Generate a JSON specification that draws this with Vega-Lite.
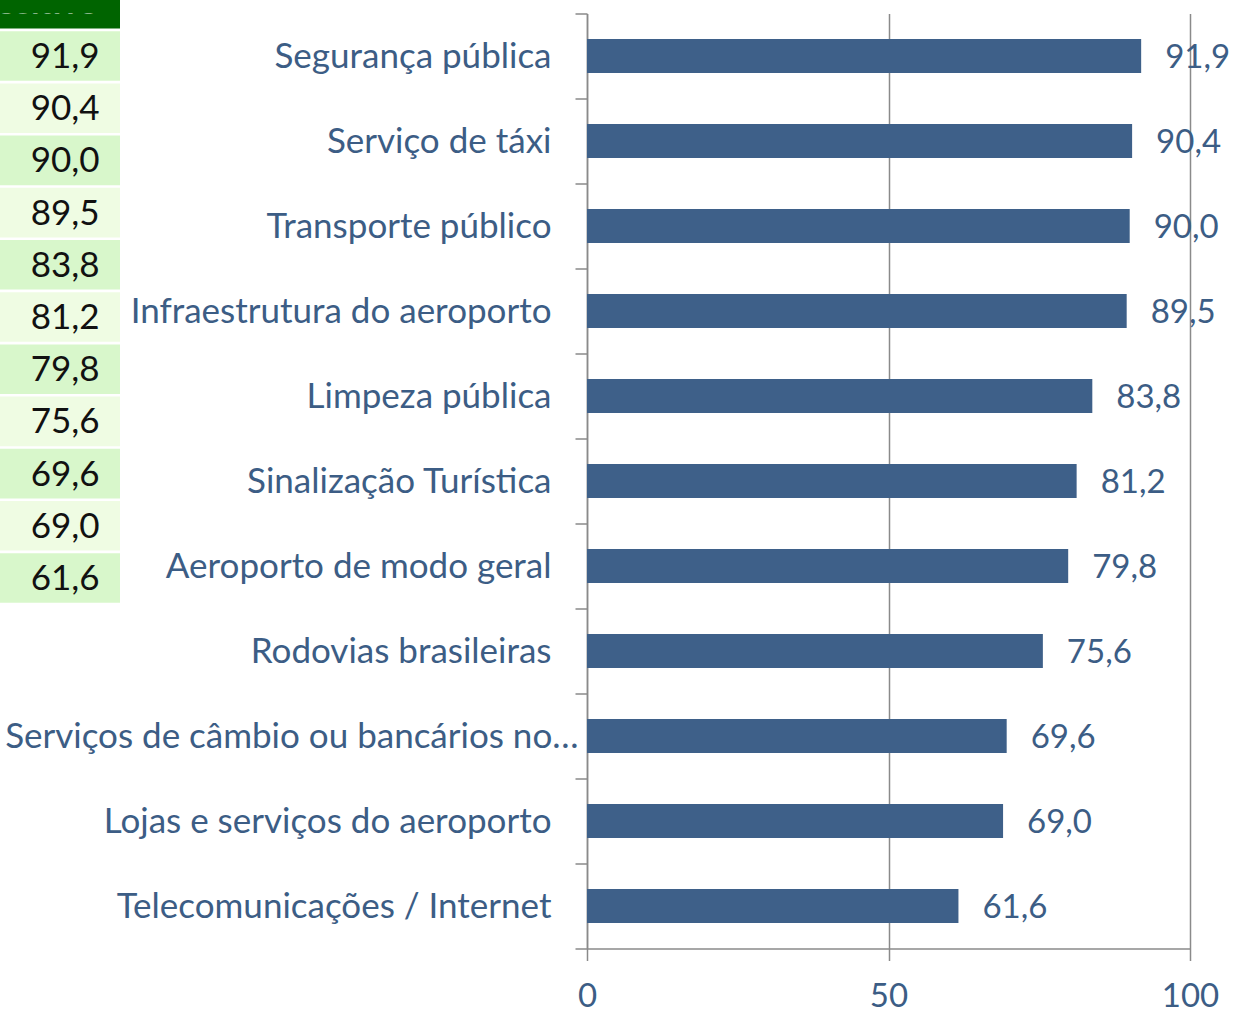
{
  "$schema": "https://vega.github.io/schema/vega-lite/v6.json",
  "padding": {"left": 0, "top": -21.5, "right": 4, "bottom": 4},
  "background": "white",
  "config": {
    "font": "Lato",
    "view": {"stroke": null},
    "locale": {"number": {"decimal": ",", "thousands": ".", "grouping": [3], "currency": ["R$", ""]}}
  },
  "datasets": {
    "rows": [
      {"category": "Segurança pública", "value": 91.9},
      {"category": "Serviço de táxi", "value": 90.4},
      {"category": "Transporte público", "value": 90.0},
      {"category": "Infraestrutura do aeroporto", "value": 89.5},
      {"category": "Limpeza pública", "value": 83.8},
      {"category": "Sinalização Turística", "value": 81.2},
      {"category": "Aeroporto de modo geral", "value": 79.8},
      {"category": "Rodovias brasileiras", "value": 75.6},
      {"category": "Serviços de câmbio ou bancários no…", "value": 69.6},
      {"category": "Lojas e serviços do aeroporto", "value": 69.0},
      {"category": "Telecomunicações / Internet", "value": 61.6}
    ],
    "header": [{"category": "Positivo"}]
  },
  "bounds": "flush",
  "spacing": 467,
  "hconcat": [
    {
      "width": 120,
      "height": 935,
      "encoding": {
        "x": {"datum": "Positivo", "type": "nominal", "axis": null, "scale": {"paddingInner": 0, "paddingOuter": 0}},
        "y": {
          "field": "category", "type": "nominal", "axis": null,
          "scale": {
            "domain": ["Positivo", "Segurança pública", "Serviço de táxi", "Transporte público", "Infraestrutura do aeroporto", "Limpeza pública", "Sinalização Turística", "Aeroporto de modo geral", "Rodovias brasileiras", "Serviços de câmbio ou bancários no…", "Lojas e serviços do aeroporto", "Telecomunicações / Internet"],
            "range": [-35.8, 590.6], "paddingInner": 0.05, "paddingOuter": 0.025
          }
        }
      },
      "layer": [
        {
          "data": {"name": "rows"},
          "transform": [
            {"window": [{"op": "row_number", "as": "rownum"}]},
            {"calculate": "datum.rownum % 2", "as": "band"}
          ],
          "mark": {"type": "rect"},
          "encoding": {
            "color": {"field": "band", "type": "nominal", "legend": null, "scale": {"domain": [1, 0], "range": ["#D8F7CB", "#EFFCE3"]}}
          }
        },
        {
          "data": {"name": "rows"},
          "mark": {"type": "text", "align": "right", "baseline": "middle", "fontSize": 35, "color": "#111111", "dy": 1},
          "encoding": {
            "x": {"datum": "Positivo", "type": "nominal", "bandPosition": 0.83},
            "text": {"field": "value", "type": "quantitative", "format": ".1f"}
          }
        },
        {
          "data": {"name": "header"},
          "mark": {"type": "rect", "color": "#006400"}
        },
        {
          "data": {"name": "header"},
          "mark": {"type": "text", "align": "right", "baseline": "middle", "fontSize": 34, "fontWeight": "bold", "color": "white", "clip": true},
          "encoding": {
            "x": {"datum": "Positivo", "type": "nominal", "bandPosition": 0.82},
            "text": {"field": "category"}
          }
        }
      ]
    },
    {
      "width": 603,
      "height": 935,
      "data": {"name": "rows"},
      "encoding": {
        "y": {
          "field": "category", "type": "nominal", "sort": null,
          "scale": {"paddingInner": 0, "paddingOuter": 0},
          "axis": {
            "title": null, "tickBand": "extent", "labelFontSize": 35, "labelColor": "#3C5D85",
            "labelPadding": {"condition": {"test": "datum.value === 'Serviços de câmbio ou bancários no…'", "value": -3}, "value": 24},
            "tickSize": 12, "tickColor": "#8A8A8A", "domainColor": "#8A8A8A",
            "tickWidth": 1.5, "domainWidth": 1.5, "labelLimit": 700
          }
        },
        "x": {
          "field": "value", "type": "quantitative",
          "scale": {"domain": [0, 100], "nice": false},
          "axis": {
            "title": null, "values": [0, 50, 100], "grid": true, "gridColor": "#8A8A8A", "gridWidth": 1.5,
            "tickSize": 12, "tickColor": "#8A8A8A", "tickWidth": 1.5, "domainColor": "#8A8A8A", "domainWidth": 1.5,
            "labelFontSize": 33, "labelColor": "#3C5D85", "labelPadding": 20, "labelFlush": false
          }
        }
      },
      "layer": [
        {"mark": {"type": "bar", "color": "#3E6089", "height": {"band": 0.4}}},
        {
          "mark": {"type": "text", "align": "left", "baseline": "middle", "dx": 24, "dy": 2, "fontSize": 33, "color": "#3C5D85"},
          "encoding": {"text": {"field": "value", "type": "quantitative", "format": ".1f"}}
        }
      ]
    }
  ]
}
